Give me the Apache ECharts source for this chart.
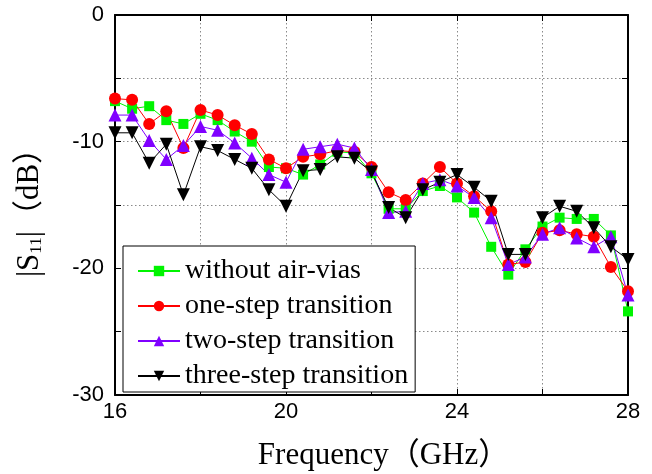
<!DOCTYPE html>
<html>
<head>
<meta charset="utf-8">
<script src="https://cdn.jsdelivr.net/npm/echarts@6/dist/echarts.min.js"></script>
<style>
  html, body { margin: 0; padding: 0; background: #fff; }
  #chart { width: 652px; height: 474px; }
</style>
</head>
<body>
<div id="chart"></div>
<script>
// Frequency sweep points (GHz)
const freq = [16.0, 16.4, 16.8, 17.2, 17.6, 18.0, 18.4, 18.8, 19.2, 19.6,
              20.0, 20.4, 20.8, 21.2, 21.6, 22.0, 22.4, 22.8, 23.2, 23.6,
              24.0, 24.4, 24.8, 25.2, 25.6, 26.0, 26.4, 26.8, 27.2, 27.6, 28.0];

// |S11| in dB for each structure
const withoutAirVias = [-6.8, -7.4, -7.2, -8.3, -8.6, -7.8, -8.3, -9.2, -10.0, -12.0,
                        -12.1, -12.6, -11.8, -10.8, -10.9, -12.5, -15.3, -15.3, -13.9, -13.5,
                        -14.4, -15.6, -18.3, -20.5, -18.5, -16.7, -16.0, -16.1, -16.1, -17.4, -23.4];
const oneStep = [-6.6, -6.7, -8.6, -7.6, -10.5, -7.5, -7.9, -8.7, -9.4, -11.4,
                 -12.1, -11.2, -11.0, -10.7, -10.8, -12.0, -14.0, -14.6, -13.3, -12.0,
                 -13.3, -14.3, -15.5, -19.7, -19.5, -17.2, -17.0, -17.3, -17.5, -19.9, -21.8];
const twoStep = [-7.9, -7.9, -9.9, -11.4, -10.3, -8.8, -9.1, -10.1, -11.3, -12.6,
                 -13.2, -10.6, -10.4, -10.2, -10.5, -12.2, -15.6, -15.5, -13.3, -13.0,
                 -13.5, -14.4, -16.0, -19.7, -19.1, -17.3, -16.8, -17.6, -18.3, -17.5, -22.1];
const threeStep = [-9.3, -9.3, -11.7, -10.2, -14.2, -10.4, -10.7, -11.4, -12.1, -13.8,
                   -15.1, -12.3, -12.2, -11.2, -11.3, -12.4, -15.2, -16.0, -13.8, -13.2,
                   -12.6, -13.6, -14.7, -18.9, -18.9, -16.0, -15.1, -15.5, -16.8, -18.3, -19.3];

const seriesNames = ['without air-vias', 'one-step transition', 'two-step transition', 'three-step transition'];

const sans = "'Liberation Sans', Arial, sans-serif";
const serif = "'Liberation Serif', 'Times New Roman', 'Noto Sans CJK SC', serif";

function pairs(xs, ys) { return xs.map((x, i) => [x, ys[i]]); }

const chart = echarts.init(document.getElementById('chart'), null, { renderer: 'canvas' });

const gridLine = { show: true, lineStyle: { color: '#8a8a8a', type: [1.5, 2.5], width: 1 } };
const boxLine = { show: true, onZero: false, lineStyle: { color: '#000', width: 2 } };
const tickIn = { show: true, inside: true, length: 6, lineStyle: { color: '#000', width: 1 } };

function makeSeries(name, data, color, symbol, size, rotate) {
  return {
    name: name,
    type: 'line',
    data: pairs(freq, data),
    symbol: symbol,
    symbolSize: size,
    symbolRotate: rotate || 0,
    showAllSymbol: true,
    lineStyle: { color: color, width: 1 },
    itemStyle: { color: color, borderWidth: 0 },
    emphasis: { disabled: true },
    animation: false,
    z: 3
  };
}

chart.setOption({
  animation: false,
  backgroundColor: '#fff',
  grid: { left: 115, right: 24, top: 15, bottom: 79, containLabel: false, outerBoundsMode: 'none' },
  legend: {
    orient: 'vertical',
    left: 123,
    top: 246,
    data: seriesNames,
    itemWidth: 42,
    itemHeight: 13,
    itemGap: 7,
    padding: [11, 7, 2, 14],
    borderColor: '#000',
    borderWidth: 1,
    backgroundColor: '#fff',
    textStyle: { fontFamily: serif, fontSize: 28, color: '#000', lineHeight: 28 },
    z: 10
  },
  xAxis: [
    {
      type: 'value', min: 16, max: 28, interval: 2,
      name: 'Frequency（GHz）',
      nameLocation: 'middle', nameGap: 45,
      nameTextStyle: { fontFamily: serif, fontSize: 31, color: '#000', padding: [0, 0, 0, 24] },
      axisLine: boxLine, axisTick: tickIn,
      axisLabel: { fontFamily: sans, fontSize: 22, color: '#000', margin: 6,
                   formatter: v => (v % 4 === 0 ? String(v) : '') },
      splitLine: gridLine
    },
    {
      type: 'value', position: 'top', min: 16, max: 28, interval: 2,
      axisLine: boxLine, axisTick: tickIn, axisLabel: { show: false }, splitLine: { show: false }
    }
  ],
  yAxis: [
    {
      type: 'value', min: -30, max: 0, interval: 5,
      name: '|S{sub|11}|（dB）',
      nameLocation: 'middle', nameGap: 70, nameRotate: 90,
      nameTextStyle: {
        fontFamily: serif, fontSize: 31, color: '#000',
        rich: { sub: { fontFamily: serif, fontSize: 17, color: '#000', padding: [14, 0, 0, 0] } }
      },
      axisLine: boxLine, axisTick: tickIn,
      axisLabel: { fontFamily: sans, fontSize: 22, color: '#000', margin: 11,
                   formatter: v => (v % 10 === 0 ? String(v) : '') },
      splitLine: gridLine
    },
    {
      type: 'value', position: 'right', min: -30, max: 0, interval: 5,
      axisLine: boxLine, axisTick: tickIn, axisLabel: { show: false }, splitLine: { show: false }
    }
  ],
  series: [
    makeSeries(seriesNames[0], withoutAirVias, '#00f400', 'rect', 10),
    makeSeries(seriesNames[1], oneStep, '#ff0000', 'circle', 12),
    makeSeries(seriesNames[2], twoStep, '#8000ff', 'triangle', 13),
    makeSeries(seriesNames[3], threeStep, '#000000', 'triangle', 13, 180)
  ]
});
</script>
</body>
</html>
